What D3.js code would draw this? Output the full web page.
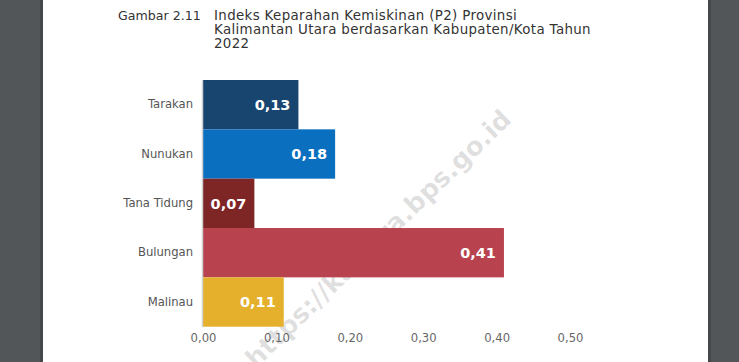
<!DOCTYPE html>
<html><head><meta charset="utf-8">
<script src="https://cdn.jsdelivr.net/npm/d3@7"></script>
<style>html,body{margin:0;padding:0;background:#525659;}svg{display:block;}</style>
</head><body>
<svg id="chart" width="739" height="362"></svg>
<script>
const categories = ["Tarakan", "Nunukan", "Tana Tidung", "Bulungan", "Malinau"];
const values = [0.13, 0.18, 0.07, 0.41, 0.11];
const barColors = ["#17456f", "#0a6fbf", "#7e2525", "#b8434f", "#e5b02b"];
const xTickValues = [0, 0.1, 0.2, 0.3, 0.4, 0.5];
const figureLabel = "Gambar 2.11";
const titleLines = ["Indeks Keparahan Kemiskinan (P2) Provinsi", "Kalimantan Utara berdasarkan Kabupaten/Kota Tahun", "2022"];
const watermark = "https://kaltara.bps.go.id";

const svg = d3.select("#chart");
const font = "'DejaVu Sans', sans-serif";

// page
svg.append("rect").attr("x",0).attr("y",0).attr("width",739).attr("height",362).attr("fill","#525659");
svg.append("rect").attr("x",40).attr("y",0).attr("width",3).attr("height",362).attr("fill","#45484b");
svg.append("rect").attr("x",708).attr("y",0).attr("width",3).attr("height",362).attr("fill","#45484b");
svg.append("rect").attr("x",43).attr("y",0).attr("width",665).attr("height",362).attr("fill","#ffffff");

// title
svg.append("text").attr("x",118).attr("y",20).attr("font-family",font).attr("font-size",12.6)
  .attr("fill","#333").text(figureLabel);
svg.selectAll("text.title").data(titleLines).join("text").attr("class","title")
  .attr("font-family",font).attr("font-size",13.4).attr("letter-spacing",0.35).attr("fill","#333")
  .attr("x",214).attr("y",(d,i)=>20+i*14).text(d=>d);

const x = d3.scaleLinear().domain([0,0.5]).range([203,570]);
const y = d3.scaleBand().domain(categories).range([80,326.7]).padding(0);

// watermark
svg.append("text").attr("transform","translate(513,121) rotate(-44)")
  .attr("text-anchor","end").attr("font-family",font).attr("font-weight","bold").attr("font-size",26)
  .attr("fill","#000").attr("fill-opacity",0.12).text(watermark);

// bars
svg.append("g").selectAll("rect").data(categories).join("rect")
  .attr("x",x(0)).attr("y",d=>y(d)).attr("height",y.bandwidth())
  .attr("width",(d,i)=>x(values[i])-x(0)).attr("fill",(d,i)=>barColors[i]);

// value labels
svg.append("g").selectAll("text").data(categories).join("text")
  .attr("x",(d,i)=>x(values[i])-8).attr("y",d=>y(d)+y.bandwidth()/2).attr("dy","0.36em")
  .attr("text-anchor","end").attr("font-family",font).attr("font-weight","bold")
  .attr("font-size",14.5).attr("fill","#fff")
  .text((d,i)=>values[i].toFixed(2).replace(".",","));

// y axis
const yAxis = svg.append("g").attr("transform",`translate(${x(0)-1},0)`)
  .call(d3.axisLeft(y).tickSize(0).tickPadding(9));
yAxis.select(".domain").attr("stroke","#d0d0d0").attr("stroke-width",1.5);
yAxis.selectAll("text").attr("font-family",font).attr("font-size",11.6).attr("fill","#555");

// x axis
const xAxis = svg.append("g").attr("transform",`translate(0,${y.range()[1]})`)
  .call(d3.axisBottom(x).tickValues(xTickValues).tickSize(0).tickPadding(7)
    .tickFormat(d=>d.toFixed(2).replace(".",",")));
xAxis.select(".domain").remove();
xAxis.selectAll("text").attr("font-family",font).attr("font-size",11.6).attr("fill","#666");
</script>
</body></html>
